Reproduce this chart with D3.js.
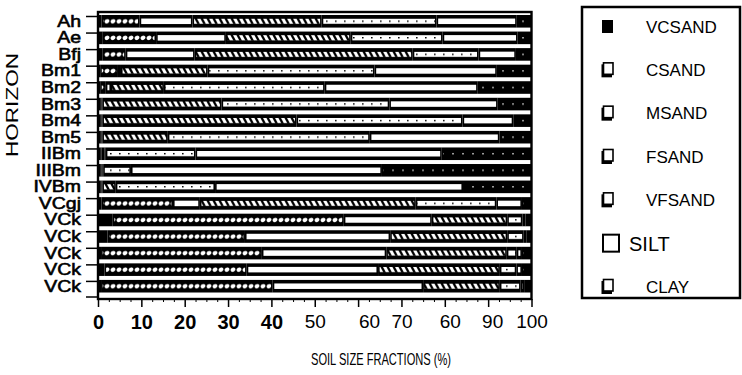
<!DOCTYPE html>
<html>
<head>
<meta charset="utf-8">
<script src="https://cdn.jsdelivr.net/npm/d3@7"></script>
<style>
  body { margin: 0; background: #fff; }
  svg { display: block; font-family: "Liberation Sans", Arial, Helvetica, sans-serif; }
</style>
</head>
<body>
<div id="chart"></div>
<script>
const WIDTH = 742;
const HEIGHT = 375;

// horizons, top to bottom
const horizons = ['Ah', 'Ae', 'Bfj', 'Bm1', 'Bm2', 'Bm3', 'Bm4', 'Bm5', 'IIBm', 'IIIBm', 'IVBm', 'VCgj', 'VCk', 'VCk', 'VCk', 'VCk', 'VCk'];
const fractions = ['VCSAND', 'CSAND', 'MSAND', 'FSAND', 'VFSAND', 'SILT', 'CLAY'];

// % of each size fraction, one value per horizon
const vcsand = [0.8, 1.1, 1.0, 0.5, 0.5, 0.5, 0.5, 0.5, 0.5, 0.5, 0.5, 0.8, 3.4, 2.2, 0.7, 1.5, 0.7];
const csand  = [8.8, 12.3, 5.4, 4.1, 1.3, 0.3, 0.3, 0.3, 0.3, 0.3, 0.3, 16.5, 53.3, 31.7, 37.1, 32.8, 39.6];
const msand  = [12.2, 16.1, 15.9, 0.7, 1.2, 0.2, 0.2, 0.2, 0.7, 0.2, 0.2, 6.2, 20.3, 33.5, 28.7, 30.3, 34.7];
const fsand  = [29.8, 28.8, 50.3, 20.0, 12.2, 27.5, 44.8, 15.1, 0.3, 0.2, 3.1, 49.8, 17.4, 27.0, 27.8, 28.1, 17.7];
const vfsand = [26.5, 21.2, 15.2, 38.5, 37.1, 38.7, 38.3, 46.6, 20.7, 6.4, 22.9, 18.6, 3.5, 3.8, 2.3, 3.8, 4.8];
const silt   = [18.5, 17.3, 8.6, 28.2, 35.3, 25.0, 11.7, 29.9, 56.8, 57.9, 57.2, 5.9, 0.7, 0.6, 1.2, 1.3, 0.8];
const clay   = [3.4, 3.2, 3.6, 8.0, 12.4, 7.8, 4.2, 7.4, 20.7, 34.5, 15.8, 2.2, 1.4, 1.2, 2.2, 2.2, 1.7];

const xTickValues = [0, 10, 20, 30, 40, 50, 60, 70, 80, 90, 100];
const xTickLabels = ['0', '10', '20', '30', '40', '50', '60', '70', '60', '90', '100'];

const seriesValues = [vcsand, csand, msand, fsand, vfsand, silt, clay];
const rows = horizons.map((h, i) => {
  const row = { index: i, horizon: h };
  fractions.forEach((f, j) => { row[f] = seriesValues[j][i]; });
  return row;
});

const svg = d3.select('#chart').append('svg').attr('width', WIDTH).attr('height', HEIGHT);

const x = d3.scaleLinear().domain([0, 100]).range([98, 531.5]);
const y = d3.scaleBand().domain(d3.range(horizons.length)).range([15, 292.5]).paddingInner(0.24).paddingOuter(0);

const bw = y.bandwidth();
const stripH = 5.5;
const stripOff = (bw - stripH) / 2;

// patterns: motif sits in the strip, pattern repeats every band step
const defs = svg.append('defs');
function makePattern(id, w, draw) {
  const p = defs.append('pattern')
    .attr('id', id)
    .attr('patternUnits', 'userSpaceOnUse')
    .attr('x', x(0))
    .attr('y', y(0) + stripOff)
    .attr('width', w)
    .attr('height', y.step());
  draw(p);
}
makePattern('pat-csand', 6, (p) => {
  p.append('rect').attr('width', 6).attr('height', stripH).attr('fill', '#000');
  p.append('ellipse').attr('cx', 3).attr('cy', stripH / 2).attr('rx', 2.5).attr('ry', 2.1)
    .attr('transform', `rotate(-35,3,${stripH / 2})`).attr('fill', '#fff');
});
makePattern('pat-fsand', 6, (p) => {
  p.append('rect').attr('width', 6).attr('height', stripH).attr('fill', '#fff');
  p.append('path').attr('d', `M0.4,0 L3,0 L6,${stripH} L3.4,${stripH} Z`).attr('fill', '#000');
});
makePattern('pat-vfsand', 9, (p) => {
  p.append('rect').attr('width', 9).attr('height', stripH).attr('fill', '#fff');
  p.append('rect').attr('x', 3).attr('y', stripH / 2 - 0.8).attr('width', 1.6).attr('height', 1.4).attr('fill', '#000');
});
makePattern('pat-clay', 10, (p) => {
  p.append('rect').attr('width', 10).attr('height', stripH).attr('fill', '#000');
  p.append('circle').attr('cx', 5).attr('cy', stripH / 2).attr('r', 0.8).attr('fill', '#fff');
});

const innerFill = {
  VCSAND: '#000',
  CSAND: 'url(#pat-csand)',
  MSAND: '#fff',
  FSAND: 'url(#pat-fsand)',
  VFSAND: 'url(#pat-vfsand)',
  SILT: '#fff',
  CLAY: 'url(#pat-clay)',
};

const stacked = d3.stack().keys(fractions)(rows);

const layers = svg.append('g').attr('class', 'bars')
  .selectAll('g.layer')
  .data(stacked)
  .join('g')
  .attr('class', (d) => `layer ${d.key.toLowerCase()}`);

// black body of every segment
layers.selectAll('rect.seg')
  .data((d) => d)
  .join('rect')
  .attr('class', 'seg')
  .attr('x', (d) => x(d[0]))
  .attr('y', (d) => y(d.data.index))
  .attr('width', (d) => x(d[1]) - x(d[0]))
  .attr('height', bw)
  .attr('fill', '#000');

// patterned strip inside the segment
layers.each(function (layer) {
  d3.select(this).selectAll('rect.strip')
    .data(layer.filter((d) => x(d[1]) - x(d[0]) > 3.2))
    .join('rect')
    .attr('class', 'strip')
    .attr('x', (d) => x(d[0]) + 1.6)
    .attr('y', (d) => y(d.data.index) + stripOff)
    .attr('width', (d) => x(d[1]) - x(d[0]) - 3.2)
    .attr('height', stripH)
    .attr('fill', innerFill[layer.key]);
});

// frame
const frameTop = 12;
const frameBottom = 299;
svg.append('rect')
  .attr('x', x(0)).attr('y', frameTop)
  .attr('width', x(100) - x(0)).attr('height', frameBottom - frameTop)
  .attr('fill', 'none').attr('stroke', '#000').attr('stroke-width', 2.4);

// y axis ticks + labels
const yAxis = svg.append('g').attr('class', 'y-axis');
yAxis.selectAll('line.tick')
  .data(d3.range(horizons.length).map((i) => y(i) + 1.5).concat([297]))
  .join('line')
  .attr('class', 'tick')
  .attr('x1', 86).attr('x2', x(0))
  .attr('y1', (d) => d).attr('y2', (d) => d)
  .attr('stroke', '#000').attr('stroke-width', 1.5);

yAxis.selectAll('text')
  .data(rows)
  .join('text')
  .attr('transform', (d) => `translate(81,${y(d.index) + bw / 2}) scale(1.18,1)`)
  .attr('text-anchor', 'end')
  .attr('dominant-baseline', 'central')
  .attr('font-size', 16.5)
  .attr('stroke', '#000').attr('stroke-width', 0.6)
  .text((d) => d.horizon);

svg.append('text')
  .attr('transform', 'translate(18,105) rotate(-90)')
  .attr('text-anchor', 'middle')
  .attr('font-size', 16)
  .attr('textLength', 104)
  .attr('lengthAdjust', 'spacingAndGlyphs')
  .text('HORIZON');

// x axis
const labelShift = { 60: 11, 80: 5, 90: 4 };
const xAxis = svg.append('g').attr('class', 'x-axis').attr('transform', `translate(0,${frameBottom})`)
  .call(d3.axisBottom(x).tickValues(xTickValues).tickSize(8).tickPadding(8)
    .tickFormat((d, i) => xTickLabels[i]));
xAxis.select('.domain').remove();
xAxis.selectAll('.tick line').attr('stroke-width', 1.5);
xAxis.selectAll('.tick text')
  .attr('font-family', '"Liberation Sans", Arial, sans-serif')
  .attr('fill', '#000')
  .attr('font-size', (d) => (d <= 40 ? 20 : 19))
  .attr('font-weight', (d) => (d <= 40 ? 'bold' : 'normal'))
  .attr('dx', (d) => labelShift[d] || 0);

const minor = svg.append('g').attr('transform', `translate(0,${frameBottom})`)
  .call(d3.axisBottom(x).tickValues(d3.range(0, 100.1, 2.5).filter((v) => v % 10 !== 0)).tickSize(3).tickFormat(''));
minor.select('.domain').remove();
minor.selectAll('.tick line').attr('stroke-width', 1);

svg.append('text')
  .attr('x', 381).attr('y', 365)
  .attr('text-anchor', 'middle')
  .attr('font-size', 17)
  .attr('textLength', 140)
  .attr('lengthAdjust', 'spacingAndGlyphs')
  .text('SOIL SIZE FRACTIONS (%)');

// legend
const legend = svg.append('g').attr('class', 'legend');
legend.append('rect')
  .attr('x', 582).attr('y', 7).attr('width', 158).attr('height', 291)
  .attr('fill', 'none').attr('stroke', '#000').attr('stroke-width', 2.5);

const ly = d3.scalePoint().domain(fractions).range([27, 287]);
const items = legend.selectAll('g.item').data(fractions).join('g')
  .attr('class', 'item')
  .attr('transform', (d) => `translate(0,${ly(d)})`);

items.each(function (d) {
  const g = d3.select(this);
  if (d === 'VCSAND') {
    g.append('rect').attr('x', 602).attr('y', -7).attr('width', 11).attr('height', 13).attr('fill', '#000');
  } else if (d === 'SILT') {
    g.append('rect').attr('x', 603).attr('y', -9).attr('width', 16).attr('height', 17)
      .attr('fill', '#fff').attr('stroke', '#000').attr('stroke-width', 2);
  } else {
    g.append('rect').attr('x', 601.5).attr('y', -6).attr('width', 10.5).attr('height', 13).attr('fill', '#000');
    g.append('rect').attr('x', 603.5).attr('y', -7.5).attr('width', 9.5).attr('height', 11.5)
      .attr('fill', '#fff').attr('stroke', '#000').attr('stroke-width', 1.6);
  }
  g.append('text')
    .attr('x', d === 'SILT' ? 629 : 646)
    .attr('dominant-baseline', 'central')
    .attr('font-size', d === 'SILT' ? 20 : 17)
    .text(d);
});
</script>
</body>
</html>
